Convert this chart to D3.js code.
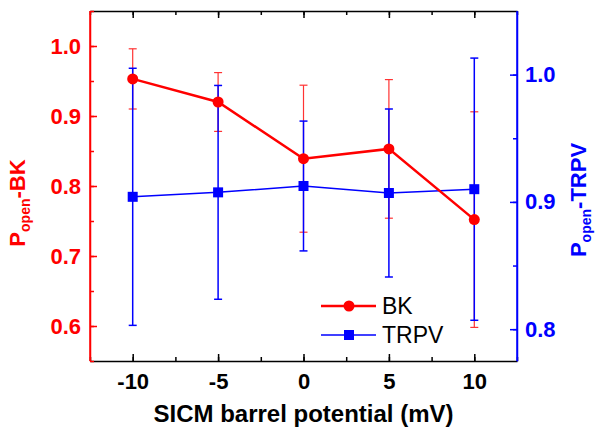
<!DOCTYPE html>
<html>
<head>
<meta charset="utf-8">
<script src="https://cdn.jsdelivr.net/npm/d3@7"></script>
<style>
body { margin: 0; background: #fff; }
text { font-family: "Liberation Sans", Arial, sans-serif; }
</style>
</head>
<body>
<script>
/*Chart values*/
var potentials = [-10, -5, 0, 5, 10]
var bkValues = [0.953, 0.920, 0.839, 0.853, 0.752]
var bkErrors = [0.043, 0.042, 0.105, 0.099, 0.154]
var trpvValues = [0.904, 0.9075, 0.9125, 0.907, 0.910]
var trpvErrors = [0.101, 0.084, 0.051, 0.066, 0.103]
var xTicks = [-10, -5, 0, 5, 10]
var leftTicks = [0.6, 0.7, 0.8, 0.9, 1.0]
var rightTicks = [0.8, 0.9, 1.0]

var width = 604, height = 435
var plotLeft = 90, plotRight = 517, plotTop = 11, plotBottom = 361

var svg = d3.select("body").append("svg")
	.attr("width", width)
	.attr("height", height)

var xScale = d3.scaleLinear().domain([-12.5, 12.5]).range([plotLeft, plotRight])
var yLeft = d3.scaleLinear().domain([0.55, 1.05]).range([plotBottom, plotTop])
var yRight = d3.scaleLinear().domain([0.775, 1.05]).range([plotBottom, plotTop])

/*axes - ticks point inward*/
function styleAxis(g, colour){
	g.selectAll("path").attr("stroke", colour).attr("stroke-width", 1.5)
	g.selectAll("line").attr("stroke", colour).attr("stroke-width", 1.5)
	g.selectAll("text")
		.attr("fill", colour)
		.style("font-size", "22px")
		.style("font-weight", "bold")
}

// minor ticks first
svg.append("g").attr("transform", "translate(0," + plotBottom + ")")
	.call(d3.axisTop(xScale).tickValues(d3.range(-12.5, 12.6, 2.5)).tickSize(4).tickFormat("").tickSizeOuter(0))
	.call(styleAxis, "#000")
svg.append("g").attr("transform", "translate(0," + plotTop + ")")
	.call(d3.axisBottom(xScale).tickValues(d3.range(-12.5, 12.6, 2.5)).tickSize(4).tickFormat("").tickSizeOuter(0))
	.call(styleAxis, "#000")
svg.append("g").attr("transform", "translate(" + plotLeft + ",0)")
	.call(d3.axisRight(yLeft).tickValues(d3.range(0.55, 1.051, 0.05)).tickSize(4).tickFormat("").tickSizeOuter(0))
	.call(styleAxis, "#f00")
svg.append("g").attr("transform", "translate(" + plotRight + ",0)")
	.call(d3.axisLeft(yRight).tickValues([0.8, 0.85, 0.9, 0.95, 1.0]).tickSize(4).tickFormat("").tickSizeOuter(0))
	.call(styleAxis, "#00f")

// major ticks with labels
svg.append("g").attr("transform", "translate(0," + plotBottom + ")")
	.call(d3.axisBottom(xScale).tickValues(xTicks).tickSizeInner(-7).tickSizeOuter(0).tickPadding(12)
		.tickFormat(function(d){ return String(d) }))
	.call(styleAxis, "#000")
	.select("path").remove()

svg.append("g").attr("transform", "translate(0," + plotTop + ")")
	.call(d3.axisTop(xScale).tickValues(xTicks).tickSizeInner(-7).tickSizeOuter(0).tickFormat(""))
	.call(styleAxis, "#000")
	.select("path").remove()

svg.append("g").attr("transform", "translate(" + plotLeft + ",0)")
	.call(d3.axisLeft(yLeft).tickValues(leftTicks).tickSizeInner(-7).tickSizeOuter(0).tickPadding(9).tickFormat(d3.format(".1f")))
	.call(styleAxis, "#f00")
	.select("path").remove()

svg.append("g").attr("transform", "translate(" + plotRight + ",0)")
	.call(d3.axisRight(yRight).tickValues(rightTicks).tickSizeInner(-7).tickSizeOuter(0).tickPadding(8).tickFormat(d3.format(".1f")))
	.call(styleAxis, "#00f")
	.select("path").remove()

// coloured sides drawn over the black frame
svg.append("line").attr("x1", plotLeft).attr("x2", plotLeft).attr("y1", plotTop).attr("y2", plotBottom)
	.attr("stroke", "#f00").attr("stroke-width", 1.5)
svg.append("line").attr("x1", plotRight).attr("x2", plotRight).attr("y1", plotTop).attr("y2", plotBottom)
	.attr("stroke", "#00f").attr("stroke-width", 1.5)

/*axis titles*/
svg.append("text")
	.attr("x", xScale(0))
	.attr("y", 422)
	.attr("text-anchor", "middle")
	.style("font-size", "24px")
	.style("font-weight", "bold")
	.text("SICM barrel potential (mV)")

var lt = svg.append("text")
	.attr("transform", "translate(25,203) rotate(-90)")
	.attr("text-anchor", "middle")
	.attr("fill", "#f00")
	.style("font-size", "22px")
	.style("font-weight", "bold")
lt.append("tspan").text("P")
lt.append("tspan").attr("dy", 5).style("font-size", "14px").text("open")
lt.append("tspan").attr("dy", -5).text("-BK")

var rt = svg.append("text")
	.attr("transform", "translate(586,200) rotate(-90)")
	.attr("text-anchor", "middle")
	.attr("fill", "#00f")
	.style("font-size", "22px")
	.style("font-weight", "bold")
rt.append("tspan").text("P")
rt.append("tspan").attr("dy", 5).style("font-size", "14px").text("open")
rt.append("tspan").attr("dy", -5).text("-TRPV")

/*error bars*/
function drawErrors(vals, errs, scale, colour, w){
	var g = svg.append("g").attr("stroke", colour).attr("stroke-width", w)
	potentials.forEach(function(p, i){
		var x = xScale(p)
		var y1 = scale(vals[i] + errs[i]), y2 = scale(vals[i] - errs[i])
		g.append("line").attr("x1", x).attr("x2", x).attr("y1", y1).attr("y2", y2)
		g.append("line").attr("x1", x - 4).attr("x2", x + 4).attr("y1", y1).attr("y2", y1)
		g.append("line").attr("x1", x - 4).attr("x2", x + 4).attr("y1", y2).attr("y2", y2)
	})
}
drawErrors(bkValues, bkErrors, yLeft, "#f33", 1.2)
drawErrors(trpvValues, trpvErrors, yRight, "#00f", 1.5)

/*TRPV line and squares*/
var trpvLine = d3.line()
	.x(function(d, i){ return xScale(potentials[i]) })
	.y(function(d){ return yRight(d) })
svg.append("path").datum(trpvValues)
	.attr("d", trpvLine)
	.attr("fill", "none")
	.attr("stroke", "#00f")
	.attr("stroke-width", 1.5)
svg.selectAll(".sq").data(trpvValues).enter().append("rect")
	.attr("class", "sq")
	.attr("x", function(d, i){ return xScale(potentials[i]) - 5 })
	.attr("y", function(d){ return yRight(d) - 5 })
	.attr("width", 10).attr("height", 10)
	.attr("fill", "#00f")

/*BK line and circles*/
var bkLine = d3.line()
	.x(function(d, i){ return xScale(potentials[i]) })
	.y(function(d){ return yLeft(d) })
svg.append("path").datum(bkValues)
	.attr("d", bkLine)
	.attr("fill", "none")
	.attr("stroke", "#f00")
	.attr("stroke-width", 2.5)
svg.selectAll(".dot").data(bkValues).enter().append("circle")
	.attr("class", "dot")
	.attr("cx", function(d, i){ return xScale(potentials[i]) })
	.attr("cy", function(d){ return yLeft(d) })
	.attr("r", 5.5)
	.attr("fill", "#f00")

/*legend*/
var legend = svg.append("g")
legend.append("line").attr("x1", 321).attr("x2", 376).attr("y1", 306).attr("y2", 306)
	.attr("stroke", "#f00").attr("stroke-width", 2.5)
legend.append("circle").attr("cx", 349).attr("cy", 306).attr("r", 5.5).attr("fill", "#f00")
legend.append("text").attr("x", 382).attr("y", 314).style("font-size", "23px").text("BK")
legend.append("line").attr("x1", 321).attr("x2", 376).attr("y1", 335).attr("y2", 335)
	.attr("stroke", "#00f").attr("stroke-width", 1.5)
legend.append("rect").attr("x", 344).attr("y", 330).attr("width", 10).attr("height", 10).attr("fill", "#00f")
legend.append("text").attr("x", 382).attr("y", 343).style("font-size", "23px").text("TRPV")
</script>
</body>
</html>
